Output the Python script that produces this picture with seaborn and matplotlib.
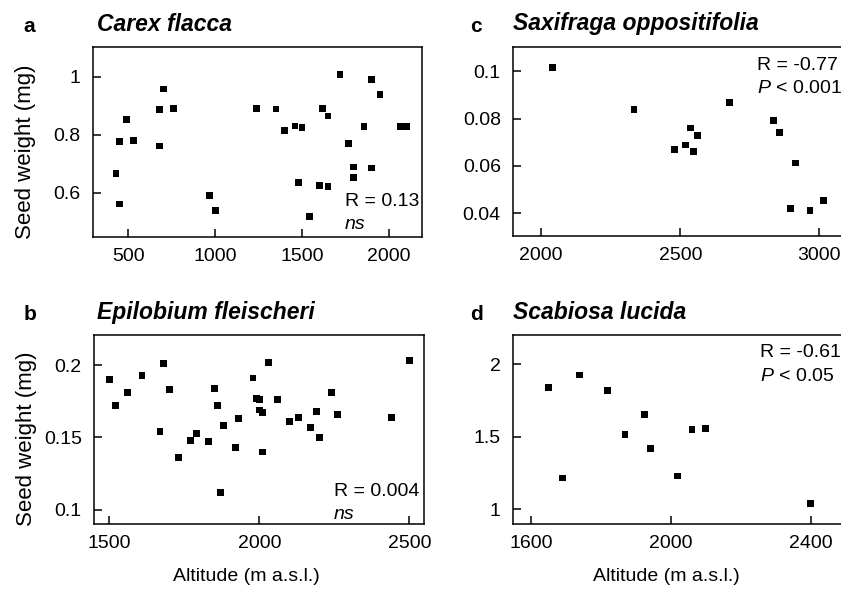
import matplotlib
matplotlib.use("Agg")
import matplotlib.pyplot as plt
from matplotlib.ticker import FuncFormatter
import seaborn as sns
import pandas as pd

# a: Carex flacca
carex_alt = [429, 448, 448, 487, 529, 678, 678, 700, 759, 968, 999, 1238, 1350, 1398,
             1459, 1478, 1499, 1540, 1599, 1618, 1649, 1649, 1718, 1768, 1797, 1797,
             1856, 1898, 1898, 1948, 2063, 2102]
carex_wt = [0.667, 0.775, 0.561, 0.851, 0.779, 0.887, 0.761, 0.957, 0.890, 0.589, 0.538,
            0.891, 0.888, 0.813, 0.830, 0.634, 0.825, 0.518, 0.624, 0.890, 0.864, 0.620,
            1.007, 0.770, 0.688, 0.652, 0.828, 0.989, 0.685, 0.939, 0.828, 0.828]

# b: Epilobium fleischeri
epil_alt = [1500, 1520, 1560, 1609, 1669, 1680, 1700, 1730, 1770, 1790, 1830, 1850, 1860,
            1870, 1880, 1920, 1930, 1979, 1990, 2002, 2000, 2011, 2011, 2030, 2060, 2100,
            2130, 2170, 2190, 2200, 2240, 2260, 2440, 2500]
epil_wt = [0.190, 0.172, 0.181, 0.193, 0.154, 0.201, 0.183, 0.136, 0.148, 0.153, 0.147,
           0.184, 0.172, 0.112, 0.158, 0.143, 0.163, 0.191, 0.177, 0.176, 0.169, 0.167,
           0.140, 0.202, 0.176, 0.161, 0.164, 0.157, 0.168, 0.150, 0.181, 0.166, 0.164,
           0.203]

# c: Saxifraga oppositifolia
saxi_alt = [2040, 2334, 2478, 2518, 2537, 2547, 2563, 2677, 2836, 2857, 2914, 2896, 2966, 3016]
saxi_wt = [0.1017, 0.0840, 0.0668, 0.0688, 0.0760, 0.0660, 0.0729, 0.0867, 0.0791,
           0.0740, 0.0612, 0.0420, 0.0410, 0.0452]

# d: Scabiosa lucida
scab_alt = [1651, 1691, 1740, 1820, 1869, 1926, 1941, 2019, 2061, 2100, 2400]
scab_wt = [1.841, 1.216, 1.926, 1.821, 1.515, 1.653, 1.421, 1.230, 1.552, 1.559, 1.039]

sns.set_style("ticks")
plt.rcParams["font.family"] = ["Liberation Sans", "DejaVu Sans"]
plt.rcParams["mathtext.fontset"] = "custom"
plt.rcParams["mathtext.it"] = "Liberation Sans:italic"
plt.rcParams["mathtext.rm"] = "Liberation Sans"
plt.rcParams["text.color"] = "black"
plt.rcParams["axes.labelcolor"] = "black"

W, H = 841, 596
fig = plt.figure(figsize=(W / 100, H / 100), dpi=100)


def box(l, t, r, b):
    return [l / W, 1 - b / H, (r - l) / W, (b - t) / H]


panels = [
    dict(x=carex_alt, y=carex_wt, pos=box(93.3, 47.3, 421.7, 236.7),
         xlim=(298, 2188), ylim=(0.448, 1.101), xt=[500, 1000, 1500, 2000], yt=[0.6, 0.8, 1],
         letter="a", title="Carex flacca", lx=29, tx=97, base=31,
         note=("R = 0.13", "ns"), nx=0.766, ny=(0.185, 0.062), ylab=True, xlab=False),
    dict(x=epil_alt, y=epil_wt, pos=box(94.3, 335, 424, 524),
         xlim=(1450, 2549), ylim=(0.0903, 0.2207), xt=[1500, 2000, 2500], yt=[0.1, 0.15, 0.2],
         letter="b", title="Epilobium fleischeri", lx=30, tx=97, base=319,
         note=("R = 0.004", "ns"), nx=0.727, ny=(0.171, 0.048), ylab=True, xlab=True),
    dict(x=saxi_alt, y=saxi_wt, pos=box(513.3, 47.3, 845, 236),
         xlim=(1900, 3092), ylim=(0.0303, 0.1102), xt=[2000, 2500, 3000],
         yt=[0.04, 0.06, 0.08, 0.1],
         letter="c", title="Saxifraga oppositifolia", lx=476, tx=513, base=30,
         note=("R = -0.77", r"$\it{P}$ < 0.001"), nx=0.734, ny=(0.906, 0.784),
         ylab=False, xlab=False),
    dict(x=scab_alt, y=scab_wt, pos=box(513.3, 335, 845, 524),
         xlim=(1550, 2498), ylim=(0.899, 2.202), xt=[1600, 2000, 2400], yt=[1, 1.5, 2],
         letter="d", title="Scabiosa lucida", lx=476, tx=513, base=319,
         note=("R = -0.61", r"$\it{P}$ < 0.05"), nx=0.743, ny=(0.905, 0.778),
         ylab=False, xlab=True),
]

fmt = FuncFormatter(lambda v, p: "{:g}".format(v))

for p in panels:
    ax = fig.add_axes(p["pos"])
    df = pd.DataFrame({"alt": p["x"], "wt": p["y"]})
    sns.scatterplot(data=df, x="alt", y="wt", marker="s", s=24, color="black",
                    edgecolor="none", linewidth=0, ax=ax)
    ax.set_xlim(*p["xlim"])
    ax.set_ylim(*p["ylim"])
    ax.set_xticks(p["xt"])
    ax.set_yticks(p["yt"])
    ax.yaxis.set_major_formatter(fmt)
    ax.xaxis.set_major_formatter(fmt)
    ax.tick_params(direction="in", length=5.5, width=1.1, labelsize=14,
                   colors="black", top=False, right=False)
    ax.tick_params(axis="y", pad=9)
    ax.tick_params(axis="x", pad=8)
    for s in ax.spines.values():
        s.set_linewidth(1.1)
        s.set_color("black")
    if p["ylab"]:
        ax.set_ylabel("Seed weight (mg)", fontsize=16)
        ax.yaxis.set_label_coords(-0.175, 0.45)
    else:
        ax.set_ylabel("")
    if p["xlab"]:
        ax.set_xlabel("Altitude (m a.s.l.)", fontsize=14)
        ax.xaxis.set_label_coords(0.46, -0.235)
    else:
        ax.set_xlabel("")
    ax.text(p["nx"], p["ny"][0], p["note"][0], transform=ax.transAxes,
            fontsize=14, ha="left", va="center")
    second = p["note"][1]
    ax.text(p["nx"], p["ny"][1], second, transform=ax.transAxes,
            fontsize=14, ha="left", va="center",
            style="italic" if second == "ns" else "normal")
    fig.text(p["lx"] / W, 1 - (p["base"] + 1.5) / H, p["letter"], fontsize=15,
             fontweight="bold", ha="center", va="baseline")
    fig.text(p["tx"] / W, 1 - p["base"] / H, p["title"], fontsize=16.5,
             fontweight="bold", style="italic", ha="left", va="baseline")

fig.savefig("out.png", dpi=100)
